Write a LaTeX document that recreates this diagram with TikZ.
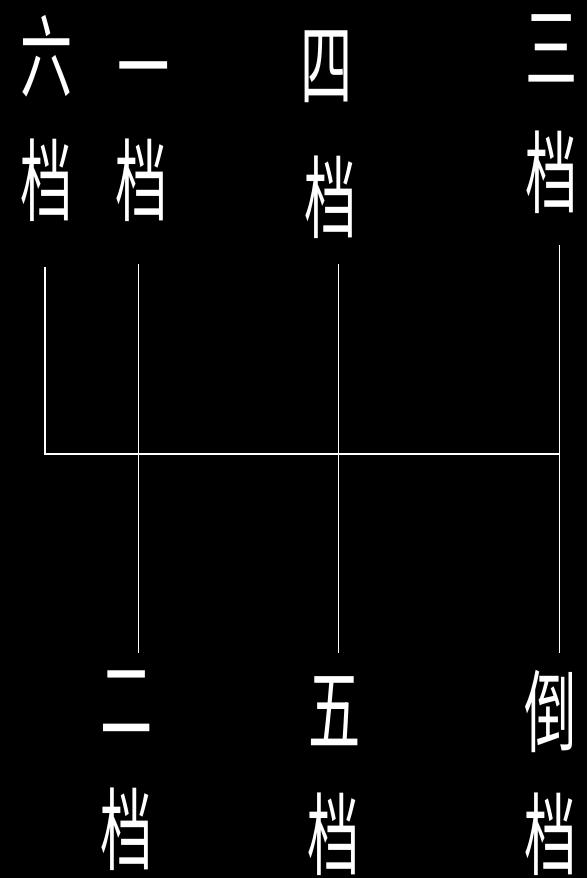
\documentclass[tikz,border=0pt]{standalone}
\usepackage{fontspec}
\newfontfamily\cjk{Noto Sans CJK SC}
\begin{document}
\begin{tikzpicture}[x=1pt,y=-1pt,
  lbl/.style={font=\cjk\fontsize{90}{90}\selectfont, text=white, inner sep=0pt, xscale=0.58},
  gateline/.style={draw=white, line width=1.8pt}]
\fill[black] (0,0) rectangle (587,878);
\useasboundingbox (0,0) rectangle (587,878);
% top labels
\node[lbl] (l6a) at (47,56) {六};
\node[lbl] (l6b) at (47,180) {档};
\node[lbl] (l1a) at (144,81) {一};
\node[lbl] (l1b) at (142,180) {档};
\node[lbl] (l4a) at (327,67) {四};
\node[lbl] (l4b) at (331,197) {档};
\node[lbl] (l3a) at (552,48) {三};
\node[lbl] (l3b) at (552,172) {档};
% bottom labels
\node[lbl] (l2a) at (127,702) {二};
\node[lbl] (l2b) at (127,829) {档};
\node[lbl] (l5a) at (335,711) {五};
\node[lbl] (l5b) at (334,834) {档};
\node[lbl] (lra) at (551,711) {倒};
\node[lbl] (lrb) at (551,834) {档};
% shift pattern
\coordinate (t6) at (45,267);
\coordinate (h6) at (45,454);
\coordinate (t1) at (138.5,264);
\coordinate (b2) at (138.5,653);
\coordinate (t4) at (338.5,264);
\coordinate (b5) at (338.5,653);
\coordinate (t3) at (559.5,245);
\coordinate (h3) at (559.5,454);
\coordinate (br) at (559.5,653);
\draw[gateline] (t6) -- (h6) -- (h3);
\draw[gateline] (t1) -- (b2);
\draw[gateline] (t4) -- (b5);
\draw[gateline] (t3) -- (br);
\end{tikzpicture}
\end{document}
